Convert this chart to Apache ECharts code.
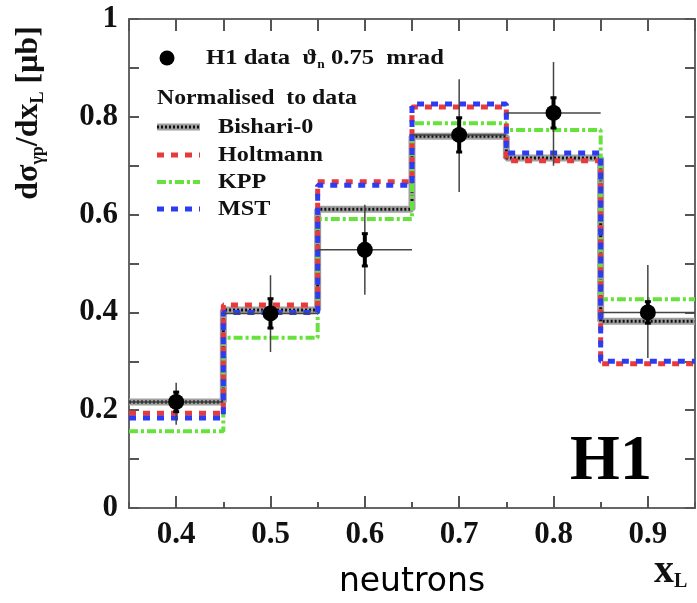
<!DOCTYPE html>
<html><head><meta charset="utf-8">
<script src="https://cdn.jsdelivr.net/npm/echarts@6/dist/echarts.min.js"></script>
<style>html,body{margin:0;padding:0;background:#fff}#c{width:697px;height:603px}</style>
</head><body><div id="c"></div>
<script>
// ---- data ----
const binEdges = [0.35, 0.45, 0.55, 0.65, 0.75, 0.85, 0.95];
const binCenters = [0.4, 0.5, 0.6, 0.7, 0.8, 0.9];
const dataValues = [0.217, 0.398, 0.528, 0.763, 0.808, 0.400];
const dataTotUp = [0.256, 0.476, 0.620, 0.877, 0.912, 0.497];
const dataTotDown = [0.170, 0.319, 0.436, 0.646, 0.700, 0.307];
const dataStat = [0.020, 0.030, 0.033, 0.035, 0.031, 0.022];
const bishari = [0.217, 0.405, 0.611, 0.760, 0.716, 0.382];
const holtmann = [0.194, 0.415, 0.667, 0.820, 0.710, 0.295];
const kpp = [0.157, 0.348, 0.591, 0.787, 0.773, 0.427];
const mst = [0.184, 0.400, 0.660, 0.826, 0.726, 0.300];
const xTickLabels = [0.4, 0.5, 0.6, 0.7, 0.8, 0.9];
const yTickLabels = [0, 0.2, 0.4, 0.6, 0.8, 1];

const SERIF = "'Liberation Serif', 'DejaVu Serif', serif";
const RED = '#e83a3a', BLUE = '#2b3cf2', GREEN = '#66e23c';

function stepData(vals) {
  return binEdges.map((e, i) => [e, vals[Math.min(i, vals.length - 1)]]);
}
function stepSeries(name, vals, color, width, type, z) {
  return {
    name, type: 'line', step: 'end', data: stepData(vals), symbol: 'none',
    xAxisIndex: 0, yAxisIndex: 0, z: z, silent: true,
    lineStyle: { color, width, type, cap: 'butt' }
  };
}
const errData = binCenters.map((c, i) => [c, dataValues[i], dataTotUp[i], dataTotDown[i], dataStat[i]]);

const chart = echarts.init(document.getElementById('c'));
const axisLineStyle = { color: '#666', width: 2 };
const legFont = "bold 22px 'Liberation Serif', serif";
chart.setOption({
  animation: false,
  grid: { left: 129, right: 2, top: 19, bottom: 95 },
  xAxis: [
    { type: 'value', position: 'bottom', min: 0.35, max: 0.95,
      axisLine: { show: true, lineStyle: axisLineStyle },
      axisTick: { show: true, inside: true, length: 12, customValues: xTickLabels, lineStyle: { color: '#555', width: 2 } },
      axisLabel: { show: true, customValues: xTickLabels, margin: 11, fontFamily: SERIF, fontWeight: 'bold', fontSize: 31, color: '#111',
        formatter: v => v.toFixed(1) },
      splitLine: { show: false } },
    { type: 'value', position: 'bottom', min: 0.35, max: 0.95, interval: 0.05,
      axisLine: { show: false }, axisLabel: { show: false }, splitLine: { show: false },
      axisTick: { show: true, inside: true, length: 6, lineStyle: { color: '#555', width: 2 } } },
    { type: 'value', position: 'top', min: 0.35, max: 0.95, interval: 0.05,
      axisLine: { show: true, lineStyle: axisLineStyle }, axisLabel: { show: false }, splitLine: { show: false },
      axisTick: { show: true, inside: true, length: 12, lineStyle: { color: '#555', width: 2 } } }
  ],
  yAxis: [
    { type: 'value', position: 'left', min: 0, max: 1, interval: 0.2,
      axisLine: { show: true, lineStyle: axisLineStyle },
      axisTick: { show: true, inside: true, length: 10, lineStyle: { color: '#555', width: 2 } },
      minorTick: { show: true, splitNumber: 2, length: 10, lineStyle: { color: '#555', width: 2 } },
      axisLabel: { show: true, margin: 11, fontFamily: SERIF, fontWeight: 'bold', fontSize: 31, color: '#111' },
      splitLine: { show: false } },
    { type: 'value', position: 'right', min: 0, max: 1, interval: 0.2,
      axisLine: { show: true, lineStyle: axisLineStyle },
      axisTick: { show: true, inside: true, length: 10, lineStyle: { color: '#555', width: 2 } },
      minorTick: { show: true, splitNumber: 2, length: 10, lineStyle: { color: '#555', width: 2 } },
      axisLabel: { show: false }, splitLine: { show: false } }
  ],
  series: [
    stepSeries('Bishari-0 band', bishari, '#a0a0a0', 7, 'solid', 2),
    stepSeries('Bishari-0', bishari, '#111', 3, [2, 2], 3),
    stepSeries('KPP', kpp, GREEN, 4, [9, 3, 3, 3], 4),
    stepSeries('Holtmann', holtmann, RED, 5, [7, 7], 5),
    stepSeries('MST', mst, BLUE, 5, [7, 7], 6),
    {
      name: 'errors', type: 'custom', xAxisIndex: 0, yAxisIndex: 0, z: 8, silent: true,
      data: errData,
      renderItem: function (params, api) {
        const c = api.value(0), v = api.value(1), up = api.value(2), dn = api.value(3), st = api.value(4);
        const pTop = api.coord([c, up]), pBot = api.coord([c, dn]);
        const pL = api.coord([c - 0.05, v]), pR = api.coord([c + 0.05, v]);
        const sT = api.coord([c, v + st]), sB = api.coord([c, v - st]);
        const lw = { stroke: '#444', lineWidth: 1.5 };
        return { type: 'group', children: [
          { type: 'line', shape: { x1: pTop[0], y1: pTop[1], x2: pBot[0], y2: pBot[1] }, style: lw },
          { type: 'line', shape: { x1: pL[0], y1: pL[1], x2: pR[0], y2: pR[1] }, style: lw },
          { type: 'line', shape: { x1: sT[0], y1: sT[1], x2: sB[0], y2: sB[1] }, style: { stroke: '#000', lineWidth: 4 } },
          { type: 'line', shape: { x1: sT[0] - 3, y1: sT[1], x2: sT[0] + 3, y2: sT[1] }, style: { stroke: '#000', lineWidth: 3 } },
          { type: 'line', shape: { x1: sB[0] - 3, y1: sB[1], x2: sB[0] + 3, y2: sB[1] }, style: { stroke: '#000', lineWidth: 3 } }
        ] };
      }
    },
    {
      name: 'H1 data', type: 'scatter', xAxisIndex: 0, yAxisIndex: 0, z: 9, silent: true,
      symbol: 'circle', symbolSize: 16, itemStyle: { color: '#000', opacity: 1 },
      data: binCenters.map((c, i) => [c, dataValues[i]])
    }
  ],
  graphic: [
    // legend
    { type: 'circle', shape: { cx: 167, cy: 58, r: 7.5 }, style: { fill: '#000' }, z: 20 },
    { type: 'text', x: 206, y: 58, scaleX: 1.12, z: 20, style: {
        text: '{m|H1 data  ϑ}{s|n}{m| 0.75  mrad}', verticalAlign: 'middle',
        rich: { m: { fontFamily: SERIF, fontWeight: 'bold', fontSize: 22, lineHeight: 26, fill: '#111' },
                s: { fontFamily: SERIF, fontWeight: 'bold', fontSize: 12, lineHeight: 12, verticalAlign: 'bottom', fill: '#111' } } } },
    { type: 'text', x: 157, y: 98, scaleX: 1.08, z: 20, style: { text: 'Normalised  to data', verticalAlign: 'middle', font: legFont, fill: '#111' } },
    { type: 'line', shape: { x1: 157, y1: 127, x2: 200, y2: 127 }, style: { stroke: '#a0a0a0', lineWidth: 7 }, z: 20 },
    { type: 'line', shape: { x1: 157, y1: 127, x2: 200, y2: 127 }, style: { stroke: '#111', lineWidth: 3, lineDash: [2, 2] }, z: 21 },
    { type: 'line', shape: { x1: 157, y1: 155, x2: 200, y2: 155 }, style: { stroke: RED, lineWidth: 5, lineDash: [7, 7] }, z: 20 },
    { type: 'line', shape: { x1: 157, y1: 182, x2: 200, y2: 182 }, style: { stroke: GREEN, lineWidth: 4, lineDash: [9, 3, 3, 3] }, z: 20 },
    { type: 'line', shape: { x1: 157, y1: 209, x2: 200, y2: 209 }, style: { stroke: BLUE, lineWidth: 5, lineDash: [7, 7] }, z: 20 },
    { type: 'text', x: 218, y: 127, scaleX: 1.1, z: 20, style: { text: 'Bishari-0', verticalAlign: 'middle', font: legFont, fill: '#111' } },
    { type: 'text', x: 218, y: 155, scaleX: 1.1, z: 20, style: { text: 'Holtmann', verticalAlign: 'middle', font: legFont, fill: '#111' } },
    { type: 'text', x: 218, y: 182, scaleX: 1.1, z: 20, style: { text: 'KPP', verticalAlign: 'middle', font: legFont, fill: '#111' } },
    { type: 'text', x: 218, y: 209, scaleX: 1.1, z: 20, style: { text: 'MST', verticalAlign: 'middle', font: legFont, fill: '#111' } },
    // H1 logo
    { type: 'text', x: 611, y: 462, z: 20, style: { text: 'H1', align: 'center', verticalAlign: 'middle',
        font: "bold 64px 'Liberation Serif', serif", fill: '#000' } },
    // neutrons
    { type: 'text', x: 412, y: 582, z: 20, style: { text: 'neutrons', align: 'center', verticalAlign: 'middle',
        font: "33px 'DejaVu Sans', sans-serif", fill: '#000' } },
    // x axis name
    { type: 'text', x: 654, y: 572, z: 20, style: {
        text: '{m|x}{s|L}', verticalAlign: 'middle',
        rich: { m: { fontFamily: SERIF, fontWeight: 'bold', fontSize: 40, lineHeight: 40, fill: '#111' },
                s: { fontFamily: SERIF, fontWeight: 'bold', fontSize: 20, lineHeight: 20, verticalAlign: 'bottom', fill: '#111' } } } },
    // y axis name
    { type: 'text', x: 29, y: 113, rotation: Math.PI / 2, z: 20, style: {
        text: '{m|dσ}{s|γp}{m|/dx}{s|L}{m| [μb]}', align: 'center', verticalAlign: 'middle',
        rich: { m: { fontFamily: SERIF, fontWeight: 'bold', fontSize: 32, lineHeight: 36, fill: '#111' },
                s: { fontFamily: SERIF, fontWeight: 'bold', fontSize: 18, lineHeight: 18, verticalAlign: 'bottom', fill: '#111' } } } }
  ]
});
</script>
</body></html>
